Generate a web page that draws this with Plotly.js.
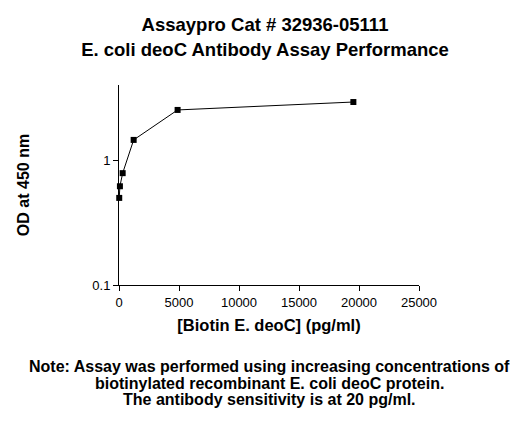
<!DOCTYPE html>
<html><head><meta charset="utf-8">
<script src="https://cdn.plot.ly/plotly-3.0.1.min.js"></script>
<style>body{margin:0;padding:0;background:#fff}#chart{width:530px;height:425px}</style>
</head><body><div id="chart"></div>
<script>
const concentration = [19.1, 76.3, 305, 1221, 4883, 19531];
const od450 = [0.50, 0.62, 0.79, 1.46, 2.54, 2.94];
const xTicks = [0, 5000, 10000, 15000, 20000, 25000];
const yTicks = [0.1, 1];
const yTickLabels = ['0.1', '1'];
const noteLines = [
  'Note: Assay was performed using increasing concentrations of',
  'biotinylated recombinant E. coli deoC protein.',
  'The antibody sensitivity is at 20 pg/ml.'
];
const noteY = [-0.405, -0.49, -0.572];

const font = 'Arial, "Liberation Sans", sans-serif';
Plotly.newPlot('chart', [{
  x: concentration, y: od450, type: 'scatter', mode: 'lines+markers',
  line: {color: '#000', width: 1},
  marker: {symbol: 'square', size: 6, color: '#000'},
  cliponaxis: false
}], {
  width: 530, height: 425,
  margin: {l: 119, r: 111, t: 85, b: 140},
  paper_bgcolor: '#fff', plot_bgcolor: '#fff',
  showlegend: false,
  font: {family: font, color: '#000'},
  title: {text: '<b>Assaypro Cat # 32936-05111<br>E. coli deoC Antibody Assay Performance</b>',
    font: {family: font, size: 18.5, color: '#000'}, x: 0.5, xanchor: 'center',
    yref: 'container', y: 0.926, yanchor: 'middle'},
  xaxis: {range: [0, 25000], tickvals: xTicks, ticktext: xTicks.map(String),
    showgrid: false, zeroline: false, showline: true, linecolor: '#000', linewidth: 1,
    ticks: 'outside', ticklen: 5, tickcolor: '#000', tickfont: {size: 13, family: font},
    title: {text: '<b>[Biotin E. deoC] (pg/ml)</b>', font: {size: 16.5, family: font}, standoff: 10}},
  yaxis: {type: 'log', range: [-1, 0.605], tickvals: yTicks, ticktext: yTickLabels,
    showgrid: false, zeroline: false, showline: true, linecolor: '#000', linewidth: 1,
    ticks: 'outside', ticklen: 5, tickcolor: '#000', tickfont: {size: 13, family: font},
    title: {text: '<b>OD at 450 nm</b>', font: {size: 16, family: font}, standoff: 58}},
  annotations: noteLines.map((t, i) => ({
    xref: 'paper', yref: 'paper', x: 0.5, y: noteY[i], xanchor: 'center', yanchor: 'middle',
    showarrow: false, text: '<b>' + t + '</b>',
    font: {family: font, size: 16, color: '#000'}
  }))
}, {displayModeBar: false, staticPlot: true});
</script></body></html>
